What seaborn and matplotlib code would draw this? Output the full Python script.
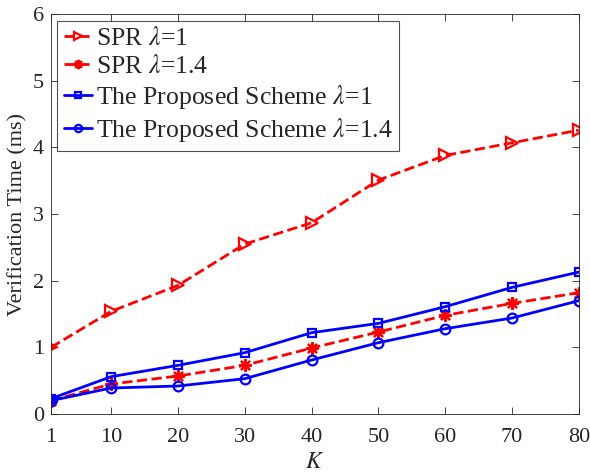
import numpy as np
import pandas as pd
import seaborn as sns
import matplotlib
matplotlib.use("Agg")
import matplotlib.pyplot as plt

K = [1, 10, 20, 30, 40, 50, 60, 70, 80]
spr_l1 = [1.00, 1.54, 1.93, 2.55, 2.87, 3.51, 3.88, 4.07, 4.26]
spr_l14 = [0.20, 0.45, 0.57, 0.73, 0.99, 1.23, 1.48, 1.66, 1.82]
prop_l1 = [0.23, 0.56, 0.73, 0.92, 1.22, 1.36, 1.61, 1.90, 2.13]
prop_l14 = [0.20, 0.39, 0.42, 0.53, 0.81, 1.07, 1.28, 1.44, 1.70]

labels = [r"SPR $\lambda$=1", r"SPR $\lambda$=1.4",
          r"The Proposed Scheme $\lambda$=1", r"The Proposed Scheme $\lambda$=1.4"]

sns.set_style("ticks")
plt.rcParams['font.family'] = ['Liberation Serif', 'DejaVu Serif']
plt.rcParams['mathtext.fontset'] = 'stix'

fig = plt.figure(figsize=(5.9, 4.74), dpi=100)
ax = fig.add_axes([0.0864, 0.1266, 0.8946, 0.8434])

series = [
    (spr_l1, 'red', '--', '>', 8),
    (spr_l14, 'red', '--', (8, 2, 0), 9),
    (prop_l1, 'blue', '-', 's', 6),
    (prop_l14, 'blue', '-', 'o', 7),
]
for (vals, col, ls, mk, ms), lab in zip(series, labels):
    sns.lineplot(x=K, y=vals, ax=ax, color=col, linestyle=ls, marker=mk,
                 markersize=ms, markerfacecolor='none', markeredgecolor=col,
                 markeredgewidth=1.6, linewidth=2, label=lab)

ax.set_xlim(1, 80)
ax.set_ylim(0, 6)
ax.set_xticks(K)
ax.set_yticks(range(0, 7))
ax.tick_params(direction='in', labelsize=16, top=True, right=True,
               length=5, width=0.6, colors='#262626', labelcolor='#262626')
ax.tick_params(axis='x', pad=10)
ax.tick_params(axis='y', pad=5)
for s in ax.spines.values():
    s.set_linewidth(0.6)
    s.set_color('#262626')
ax.set_xlabel("$K$", fontsize=17, labelpad=4)
ax.set_ylabel("Verification Time (ms)", fontsize=16, labelpad=4)

leg = ax.legend(loc='upper left', fontsize=18.5, frameon=True, fancybox=False,
                edgecolor='#262626', handlelength=1.1, handletextpad=0.15,
                borderpad=0.25, labelspacing=0.2, borderaxespad=0.25,
                markerscale=0.75)
leg.get_frame().set_linewidth(0.8)

fig.savefig("out.png", dpi=100)
